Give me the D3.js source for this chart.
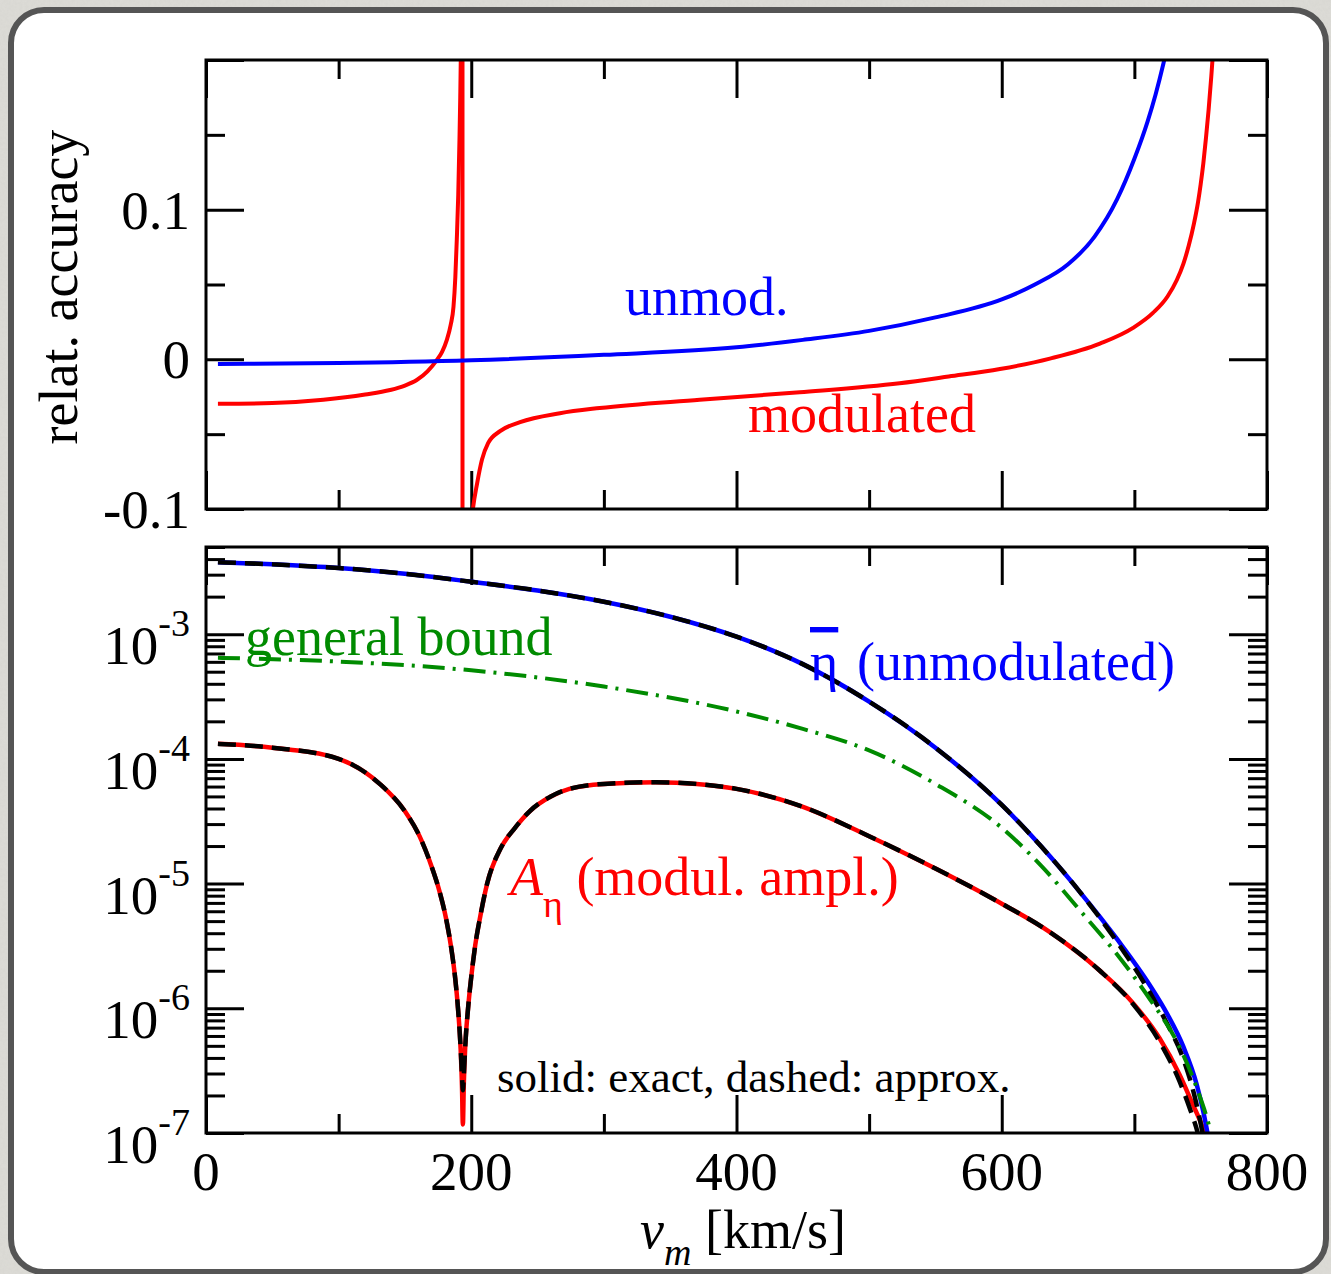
<!DOCTYPE html>
<html>
<head>
<meta charset="utf-8">
<script src="https://cdn.jsdelivr.net/npm/d3@7"></script>
<style>
  html, body { margin: 0; padding: 0; background: #dcdbd6; }
  svg { display: block; }
  text { font-family: "Liberation Serif", "Times New Roman", serif; }
</style>
</head>
<body>
<svg id="chart" width="1331" height="1274"></svg>
<script>
// ---------- data ----------
// velocity axis
const vMajorTicks = [0, 200, 400, 600, 800];
const vMinorTicks = [100, 300, 500, 700];

// upper panel: relative accuracy of the approximation
const accTicksMajor = [-0.1, 0, 0.1, 0.2];
const accTicksMinor = [-0.05, 0.05, 0.15];
const accTickLabels = ["-0.1", "0", "0.1"];

const accUnmodV = [9, 100, 200, 300, 400, 450, 500, 550, 600, 625, 650, 670, 687, 700, 710, 716, 722, 728];
const accUnmod  = [-0.0031, -0.0025, -0.0006, 0.003, 0.008, 0.013, 0.019, 0.028, 0.040, 0.050, 0.0635, 0.082, 0.107, 0.134, 0.159, 0.177, 0.198, 0.222];

// modulated: branch below the pole, the pole itself, branch above the pole
const accModLeftV  = [9, 50, 88.5, 120, 138.8, 150, 158.9, 167, 174, 178, 181.6, 184.5, 186.6, 188, 189.1, 190.2, 191.1, 191.7, 192.1, 192.5];
const accModLeft   = [-0.0297, -0.0292, -0.027, -0.0235, -0.0205, -0.0175, -0.0138, -0.008, -0.0005, 0.005, 0.013, 0.023, 0.035, 0.055, 0.08, 0.11, 0.146, 0.175, 0.2, 0.24];
const accModPoleV  = 193.4;
const accModPole   = [0.6, -0.6];
const accModRightV = [199, 201.4, 204.4, 208.1, 212.7, 221.7, 236.8, 266.9, 296.9, 372.3, 447.7, 523, 560, 598.6, 636.3, 674, 699, 714, 725, 732, 737, 741, 745, 748, 750, 752, 754, 756, 758, 760];
const accModRight  = [-0.12, -0.099, -0.083, -0.067, -0.056, -0.048, -0.042, -0.036, -0.0325, -0.027, -0.022, -0.016, -0.0115, -0.0065, 0.0005, 0.0105, 0.021, 0.031, 0.042, 0.053, 0.064, 0.076, 0.091, 0.105, 0.117, 0.131, 0.148, 0.167, 0.189, 0.214];

// lower panel: eta-bar, modulation amplitude and general bound
const logDecades = [-7, -6, -5, -4, -3];
const etaV        = [9, 50, 100, 150, 200, 250, 300, 350, 400, 450, 500, 550, 600, 630, 659, 687, 712, 725, 737, 747, 752, 756];
const etaExact    = [3.78e-3, 3.63e-3, 3.39e-3, 3.05e-3, 2.63e-3, 2.24e-3, 1.82e-3, 1.38e-3, 9.55e-4, 5.75e-4, 2.88e-4, 1.23e-4, 4.27e-5, 1.97e-5, 8.55e-6, 3.58e-6, 1.51e-6, 8.9e-7, 4.9e-7, 2.45e-7, 1.48e-7, 8.9e-8];
const etaApproxV  = [9, 50, 100, 150, 200, 250, 300, 350, 400, 450, 500, 550, 600, 630, 659, 687, 712, 725, 737, 745, 751, 753];
const etaApprox   = [3.78e-3, 3.63e-3, 3.39e-3, 3.05e-3, 2.63e-3, 2.24e-3, 1.82e-3, 1.38e-3, 9.55e-4, 5.75e-4, 2.88e-4, 1.23e-4, 4.27e-5, 1.97e-5, 8.55e-6, 3.4e-6, 1.32e-6, 7.4e-7, 3.9e-7, 2.05e-7, 1.05e-7, 8.0e-8];

const ampV        = [9, 50, 100, 131, 150, 161, 170, 176, 181, 185, 188, 190, 192, 193, 193.7, 194.4, 195.5, 197.6, 200, 203, 207, 212, 222, 233, 244, 260, 274, 300, 339, 370, 400, 448, 500, 550, 600, 636, 674, 699, 719, 734, 744, 752, 755];
const ampExact    = [1.32e-4, 1.23e-4, 1.0e-4, 6.3e-5, 3.8e-5, 2.4e-5, 1.38e-5, 8.7e-6, 5.25e-6, 3.0e-6, 1.7e-6, 1.0e-6, 4.7e-7, 2.4e-7, 1.17e-7, 2.5e-7, 5.0e-7, 1.0e-6, 1.78e-6, 3.2e-6, 5.6e-6, 1.0e-5, 1.9e-5, 2.8e-5, 3.8e-5, 5.0e-5, 5.75e-5, 6.3e-5, 6.5e-5, 6.3e-5, 5.75e-5, 4.2e-5, 2.4e-5, 1.32e-5, 6.9e-6, 4.1e-6, 2.0e-6, 1.1e-6, 5.75e-7, 2.95e-7, 1.7e-7, 1.07e-7, 8.3e-8];
const ampApproxV  = [9, 50, 100, 131, 150, 161, 170, 176, 181, 185, 188, 190, 192, 193, 193.7, 194.4, 195.5, 197.6, 200, 203, 207, 212, 222, 233, 244, 260, 274, 300, 339, 370, 400, 448, 500, 550, 600, 636, 674, 699, 719, 734, 742, 748, 750];
const ampApprox   = [1.32e-4, 1.23e-4, 1.0e-4, 6.3e-5, 3.8e-5, 2.4e-5, 1.38e-5, 8.7e-6, 5.25e-6, 3.0e-6, 1.7e-6, 1.0e-6, 4.8e-7, 2.9e-7, 2.2e-7, 2.9e-7, 5.0e-7, 1.0e-6, 1.78e-6, 3.2e-6, 5.6e-6, 1.0e-5, 1.9e-5, 2.8e-5, 3.8e-5, 5.0e-5, 5.75e-5, 6.3e-5, 6.5e-5, 6.3e-5, 5.75e-5, 4.2e-5, 2.4e-5, 1.32e-5, 6.9e-6, 4.1e-6, 2.0e-6, 1.08e-6, 5.4e-7, 2.6e-7, 1.55e-7, 9.8e-8, 8.0e-8];

const boundV      = [9, 100, 200, 300, 400, 450, 500, 550, 600, 630, 661, 687, 702, 712, 732, 747, 757, 759];
const bound       = [6.46e-4, 6.03e-4, 5.13e-4, 3.8e-4, 2.4e-4, 1.74e-4, 1.17e-4, 6.3e-5, 2.8e-5, 1.38e-5, 5.75e-6, 2.7e-6, 1.66e-6, 1.17e-6, 5.4e-7, 2.3e-7, 1.07e-7, 8.7e-8];

// ---------- layout ----------
const svg = d3.select("#chart");
const W = 1331, H = 1274;
const left = 206, right = 1267;
const topPanel = { y0: 60, y1: 509 };
const botPanel = { y0: 547, y1: 1133 };
const MAJ = 38, MIN = 19;
const BLUE = "#0000ff", RED = "#ff0000", GREEN = "#008b00";

// background texture and rounded card
const defs = svg.append("defs");
const noise = defs.append("filter").attr("id", "grain").attr("x", 0).attr("y", 0).attr("width", "100%").attr("height", "100%");
noise.append("feTurbulence").attr("type", "fractalNoise").attr("baseFrequency", 0.35).attr("numOctaves", 3).attr("seed", 4);
noise.append("feColorMatrix").attr("type", "matrix")
  .attr("values", "0 0 0 0 0.55  0 0 0 0 0.55  0 0 0 0 0.52  0 0 0 0.35 0");
svg.append("rect").attr("width", W).attr("height", H).attr("fill", "#dddcd7");
svg.append("rect").attr("width", W).attr("height", H).attr("filter", "url(#grain)").attr("opacity", 0.6);
svg.append("rect").attr("x", 11).attr("y", 10).attr("width", 1315).attr("height", 1262)
  .attr("rx", 33).attr("ry", 33).attr("fill", "#fff").attr("stroke", "#555").attr("stroke-width", 6);

// scales
const x = d3.scaleLinear().domain([0, 800]).range([left, right]);
const yAcc = d3.scaleLinear().domain([-0.1, 0.2]).range([topPanel.y1, topPanel.y0]);
const yLog = d3.scaleLog().domain([1e-7, 5e-3]).range([botPanel.y1, botPanel.y0]);

// clip paths
[["clipTop", topPanel], ["clipBot", botPanel]].forEach(([id, p]) => {
  defs.append("clipPath").attr("id", id).append("rect")
    .attr("x", left).attr("y", p.y0).attr("width", right - left).attr("height", p.y1 - p.y0);
});

function styleTicks(g) {
  g.select(".domain").remove();
  g.selectAll(".tick line").attr("stroke", "#000").attr("stroke-width", 3);
}

function tickAxis(axisGen, scale, values, size, tx, ty) {
  svg.append("g").attr("transform", `translate(${tx},${ty})`)
    .call(axisGen(scale).tickValues(values).tickSize(-size).tickFormat(""))
    .call(styleTicks);
}

function drawXTicks(p) {
  tickAxis(d3.axisBottom, x, vMajorTicks, MAJ, 0, p.y1);
  tickAxis(d3.axisBottom, x, vMinorTicks, MIN, 0, p.y1);
  tickAxis(d3.axisTop, x, vMajorTicks, MAJ, 0, p.y0);
  tickAxis(d3.axisTop, x, vMinorTicks, MIN, 0, p.y0);
}

// ---------- upper panel ----------
drawXTicks(topPanel);
tickAxis(d3.axisLeft, yAcc, accTicksMajor, MAJ, left, 0);
tickAxis(d3.axisLeft, yAcc, accTicksMinor, MIN, left, 0);
tickAxis(d3.axisRight, yAcc, accTicksMajor, MAJ, right, 0);
tickAxis(d3.axisRight, yAcc, accTicksMinor, MIN, right, 0);

svg.append("g").selectAll("text").data(accTicksMajor.slice(0, 3)).join("text")
  .attr("x", 190).attr("y", d => yAcc(d) + 19)
  .attr("text-anchor", "end").attr("font-size", 55)
  .text((d, i) => accTickLabels[i]);

const lineAcc = (vs, ys, curve) => d3.line().curve(curve).x(i => x(vs[i])).y(i => yAcc(ys[i]))(d3.range(vs.length));
const gTop = svg.append("g").attr("clip-path", "url(#clipTop)");
const redTop = path => gTop.append("path").attr("d", path).attr("fill", "none").attr("stroke", RED).attr("stroke-width", 4).attr("stroke-linejoin", "round");
redTop(lineAcc(accModLeftV, accModLeft, d3.curveMonotoneX));
redTop(lineAcc([accModPoleV, accModPoleV], accModPole, d3.curveLinear));
redTop(lineAcc(accModRightV, accModRight, d3.curveMonotoneX));
gTop.append("path").attr("d", lineAcc(accUnmodV, accUnmod, d3.curveMonotoneX)).attr("fill", "none").attr("stroke", BLUE).attr("stroke-width", 4);

svg.append("rect").attr("x", left).attr("y", topPanel.y0).attr("width", right - left).attr("height", topPanel.y1 - topPanel.y0)
  .attr("fill", "none").attr("stroke", "#000").attr("stroke-width", 3);

svg.append("text").attr("transform", "translate(77,287) rotate(-90)")
  .attr("text-anchor", "middle").attr("font-size", 54).text("relat. accuracy");
svg.append("text").attr("x", 625).attr("y", 315).attr("font-size", 54).attr("fill", BLUE).text("unmod.");
svg.append("text").attr("x", 748).attr("y", 432).attr("font-size", 54).attr("fill", RED).text("modulated");

// ---------- lower panel ----------
drawXTicks(botPanel);
const logMajor = logDecades.map(d => Math.pow(10, d));
const logMinor = [];
logDecades.forEach(d => { for (let k = 2; k <= 9; k++) { const v = k * Math.pow(10, d); if (v <= 5e-3) logMinor.push(v); } });
tickAxis(d3.axisLeft, yLog, logMajor, MAJ, left, 0);
tickAxis(d3.axisLeft, yLog, logMinor, MIN, left, 0);
tickAxis(d3.axisRight, yLog, logMajor, MAJ, right, 0);
tickAxis(d3.axisRight, yLog, logMinor, MIN, right, 0);

// decade labels 10^n
const decLab = svg.append("g").selectAll("text").data(logDecades).join("text")
  .attr("x", 190).attr("y", d => yLog(Math.pow(10, d)) + 30)
  .attr("text-anchor", "end").attr("font-size", 55);
decLab.append("tspan").text("10");
decLab.append("tspan").attr("font-size", 38).attr("dy", -28).text(d => String(d));

// velocity labels
svg.append("g").selectAll("text").data(vMajorTicks).join("text")
  .attr("x", d => x(d)).attr("y", 1190).attr("text-anchor", "middle").attr("font-size", 55).text(d => d);

const lineLog = (vs, ys) => d3.line().curve(d3.curveMonotoneX).x(i => x(vs[i])).y(i => yLog(ys[i]))(d3.range(vs.length));
const gBot = svg.append("g").attr("clip-path", "url(#clipBot)");
gBot.append("path").attr("d", lineLog(ampV, ampExact)).attr("fill", "none").attr("stroke", RED).attr("stroke-width", 4.5);
gBot.append("path").attr("d", lineLog(etaV, etaExact)).attr("fill", "none").attr("stroke", BLUE).attr("stroke-width", 4.5);
gBot.append("path").attr("d", lineLog(ampApproxV, ampApprox)).attr("fill", "none").attr("stroke", "#000").attr("stroke-width", 4.5).attr("stroke-dasharray", "18,9");
gBot.append("path").attr("d", lineLog(etaApproxV, etaApprox)).attr("fill", "none").attr("stroke", "#000").attr("stroke-width", 4.5).attr("stroke-dasharray", "18,9");
gBot.append("path").attr("d", lineLog(boundV, bound)).attr("fill", "none").attr("stroke", GREEN).attr("stroke-width", 4).attr("stroke-dasharray", "22,8,3,8");

svg.append("rect").attr("x", left).attr("y", botPanel.y0).attr("width", right - left).attr("height", botPanel.y1 - botPanel.y0)
  .attr("fill", "none").attr("stroke", "#000").attr("stroke-width", 3);

// curve labels
svg.append("text").attr("x", 245).attr("y", 655).attr("font-size", 54).attr("fill", GREEN).text("general bound");
const etaLab = svg.append("text").attr("x", 810).attr("y", 680).attr("font-size", 54).attr("fill", BLUE);
etaLab.append("tspan").attr("text-decoration", "overline").style("text-decoration", "overline").text("\u03B7");
etaLab.append("tspan").attr("x", 857).text("(unmodulated)");
const amp = svg.append("text").attr("x", 510).attr("y", 895).attr("font-size", 54).attr("fill", RED);
amp.append("tspan").attr("font-style", "italic").text("A");
amp.append("tspan").attr("font-size", 38).attr("dy", 22).text("\u03B7");
amp.append("tspan").attr("dy", -22).text(" (modul. ampl.)");
svg.append("text").attr("x", 497).attr("y", 1092).attr("font-size", 45).text("solid: exact, dashed: approx.");

// axis title
const xt = svg.append("text").attr("x", 640).attr("y", 1248).attr("font-size", 54);
xt.append("tspan").attr("font-style", "italic").text("v");
xt.append("tspan").attr("font-style", "italic").attr("font-size", 38).attr("dy", 17).text("m");
xt.append("tspan").attr("dy", -17).text(" [km/s]");
</script>
</body>
</html>
